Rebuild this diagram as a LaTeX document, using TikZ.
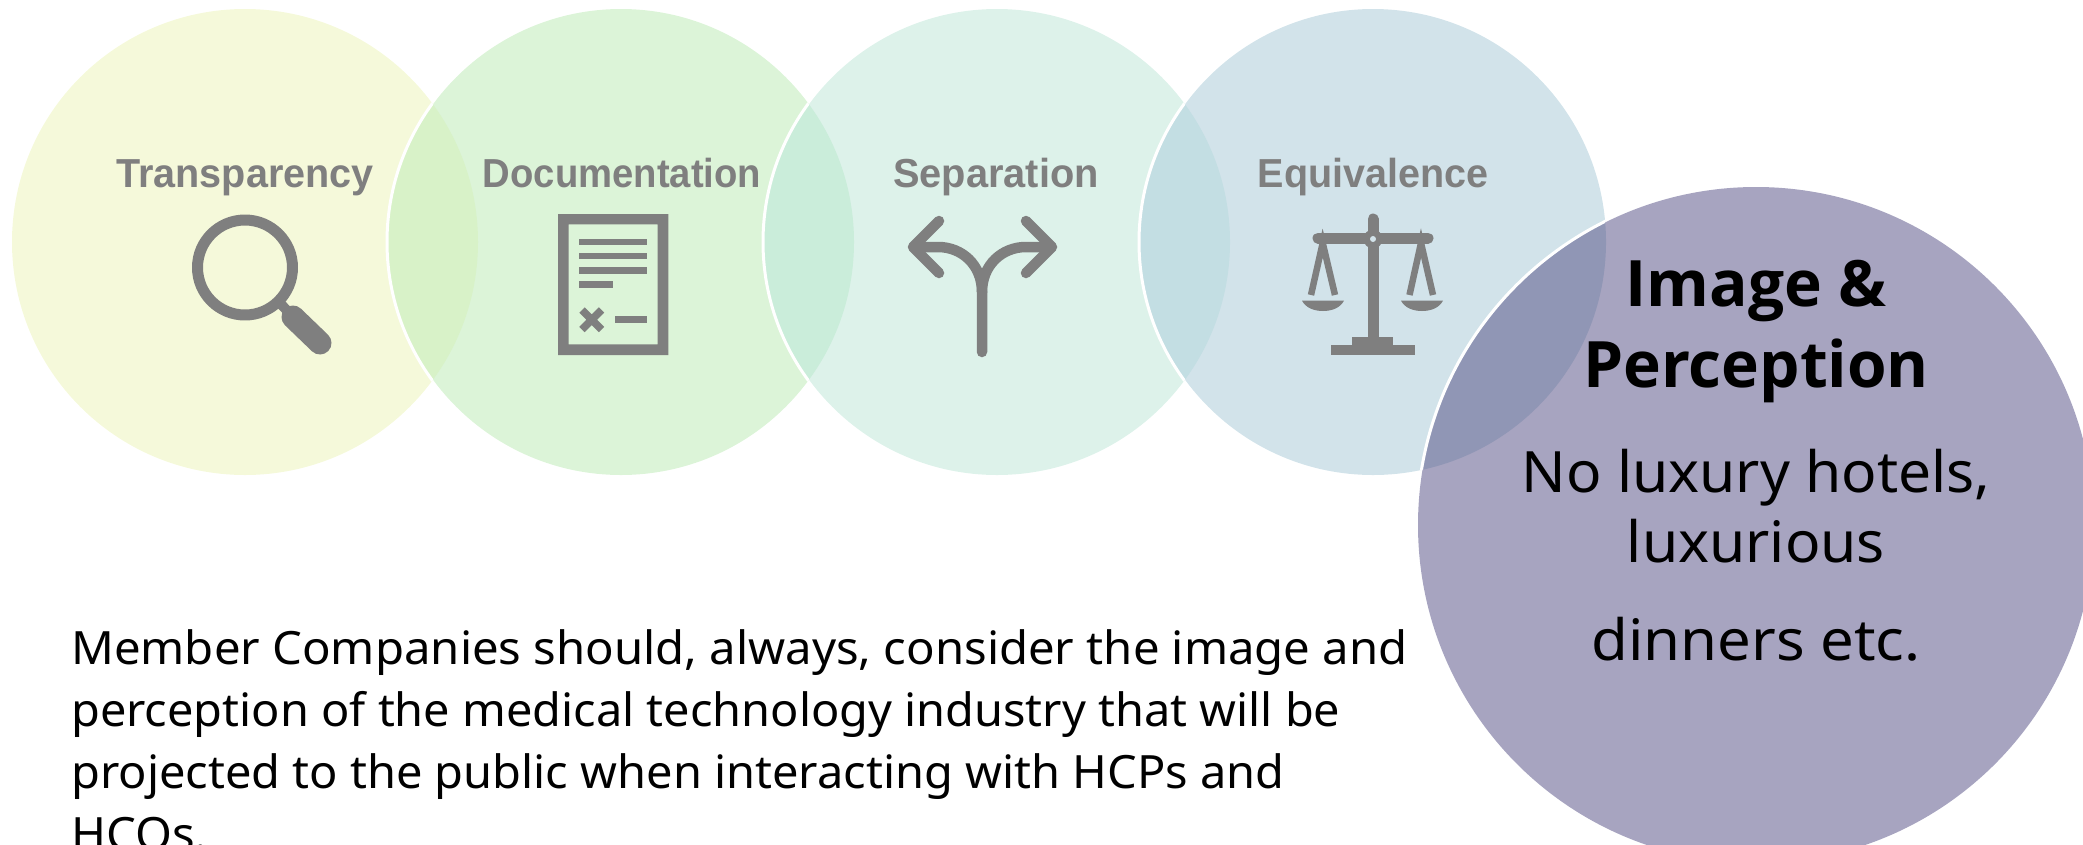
\documentclass[tikz,border=0pt]{standalone}
\usepackage{fontspec}
\usepackage{graphicx}
\setmainfont{Liberation Sans}
\newfontfamily\bodyfont[FakeStretch=1.03]{Noto Sans}
\newfontfamily\boldfont{Open Sans}
\newfontfamily\headfont{Liberation Sans}
\definecolor{cA}{HTML}{F5F9DA}
\definecolor{cB}{HTML}{DCF4D8}
\definecolor{cC}{HTML}{DDF2EA}
\definecolor{cD}{HTML}{D2E3EA}
\definecolor{cE}{HTML}{A7A4C0}
\definecolor{oAB}{HTML}{D8F2C8}
\definecolor{oBC}{HTML}{CAEDDA}
\definecolor{oCD}{HTML}{C3DEE3}
\definecolor{oDE}{HTML}{9096B5}
\definecolor{icongray}{HTML}{7F7F7F}
\tikzset{
  disc/.style={circle,inner sep=0pt,outer sep=0pt,minimum size=466pt,fill=#1},
  bigdisc/.style={circle,inner sep=0pt,outer sep=0pt,minimum size=676pt,fill=#1},
  lab/.style={anchor=base,inner sep=0pt,text=icongray,font=\headfont\bfseries\fontsize{40.5}{46}\selectfont},
  body/.style={anchor=base west,inner sep=0pt,text=black,font=\bodyfont\fontsize{45.9}{54}\selectfont},
  bigbold/.style={anchor=base,inner sep=0pt,text=black,font=\boldfont\bfseries\fontsize{64}{70}\selectfont},
  bigtext/.style={anchor=base,inner sep=0pt,text=black,font=\bodyfont\fontsize{57}{64}\selectfont},
  ico/.style={draw=icongray,line cap=round,line join=round,line width=#1},
  ico/.default=10pt,
}
\begin{document}
\begin{tikzpicture}[x=1pt,y=-1pt]
\useasboundingbox (0,0) rectangle (2083,844);
\clip (0,0) rectangle (2083,844);
% discs
\node[disc=cA] (c1) at (245,242) {};
\node[disc=cB] (c2) at (621,242) {};
\node[disc=cC] (c3) at (997,242) {};
\node[disc=cD] (c4) at (1373,242) {};
\node[bigdisc=cE] (c5) at (1756,525) {};
% overlaps
\begin{scope}\clip (245,242) circle (233pt); \fill[oAB] (621,242) circle (233pt); \draw[white,line width=3pt] (621,242) circle (234pt);\end{scope}
\begin{scope}\clip (621,242) circle (233pt); \fill[oBC] (997,242) circle (233pt); \draw[white,line width=3pt] (997,242) circle (234pt);\end{scope}
\begin{scope}\clip (997,242) circle (233pt); \fill[oCD] (1373,242) circle (233pt); \draw[white,line width=3pt] (1373,242) circle (234pt);\end{scope}
\begin{scope}\clip (1373,242) circle (233pt); \fill[oDE] (1756,525) circle (338pt); \draw[white,line width=3pt] (1756,525) circle (339pt);\end{scope}
% labels
\node[lab] (l1) at (245,187) {\scalebox{.977}[1]{Transparency}};
\node[lab] (l2) at (622,187) {\scalebox{.944}[1]{Documentation}};
\node[lab] (l3) at (996,187) {\scalebox{.982}[1]{Separation}};
\node[lab] (l4) at (1373,187) {\scalebox{.976}[1]{Equivalence}};
% magnifier
\draw[ico=11pt] (245,267.5) circle (47.5pt);
\draw[draw=icongray,line width=10pt] (279,302) -- (294,318);
\draw[ico=23pt] (293,317) -- (320,343);
% document
\fill[icongray,even odd rule] (558,214) rectangle (668.3,355) (568.7,224.3) rectangle (657.7,344.3);
\fill[icongray] (579.3,238.7) rectangle (646.7,245.3);
\fill[icongray] (579.3,252.7) rectangle (646.7,259.3);
\fill[icongray] (579.3,267) rectangle (646.7,273.7);
\fill[icongray] (579.3,281) rectangle (613,288);
\fill[icongray] (614.7,316.3) rectangle (646.7,323);
\draw[icongray,line width=7.5pt] (582,310) -- (601.5,329.5) (601.5,310) -- (582,329.5);
% split arrow
\draw[ico=10.5pt] (982,352) -- (982,292) .. controls (982,265) and (962,247) .. (938,247) -- (914,247);
\draw[ico=10.5pt] (982,292) .. controls (982,265) and (1002,247) .. (1026,247) -- (1050,247);
\draw[ico=10.5pt] (939,221) -- (913,247) -- (939,273);
\draw[ico=10.5pt] (1026,221) -- (1052,247) -- (1026,273);
% scales
\draw[ico=11pt] (1373,219) -- (1373,337);
\draw[ico=11pt] (1318,238) -- (1428,238);
\fill[icongray] (1373,239) circle (9.5pt);
\fill[cD] (1373,239) circle (3pt);
\draw[icongray,line width=6.5pt] (1311,295) -- (1322.7,243) -- (1335,295);
\draw[icongray,line width=6.5pt] (1409.5,295) -- (1421,243) -- (1433,295);
\fill[icongray] (1302,300.7) -- (1344,300.7) .. controls (1340,308) and (1332,311) .. (1323,311) .. controls (1314,311) and (1306,308) .. (1302,300.7) -- cycle;
\fill[icongray] (1401,300.7) -- (1443,300.7) .. controls (1439,308) and (1431,311) .. (1422,311) .. controls (1413,311) and (1405,308) .. (1401,300.7) -- cycle;
\fill[icongray] (1351.7,337) rectangle (1393.3,346);
\fill[icongray] (1330.7,345) rectangle (1415,355);
% big disc text
\node[bigbold] (t1) at (1756,306) {Image \&};
\node[bigbold] (t2) at (1756,387) {Perception};
\node[bigtext] (t3) at (1756,492) {No luxury hotels,};
\node[bigtext] (t4) at (1756,562) {luxurious};
\node[bigtext] (t5) at (1756,660) {\scalebox{1.02}[1]{dinners etc.}};
% body
\node[body] (b1) at (71,664) {Member Companies should, always, consider the image and};
\node[body] (b2) at (71,726) {\scalebox{.992}[1]{perception of the medical technology industry that will be}};
\node[body] (b3) at (71,788) {\scalebox{.9935}[1]{projected to the public when interacting with HCPs and}};
\node[body] (b4) at (71,850) {HCOs.};
\end{tikzpicture}
\end{document}
